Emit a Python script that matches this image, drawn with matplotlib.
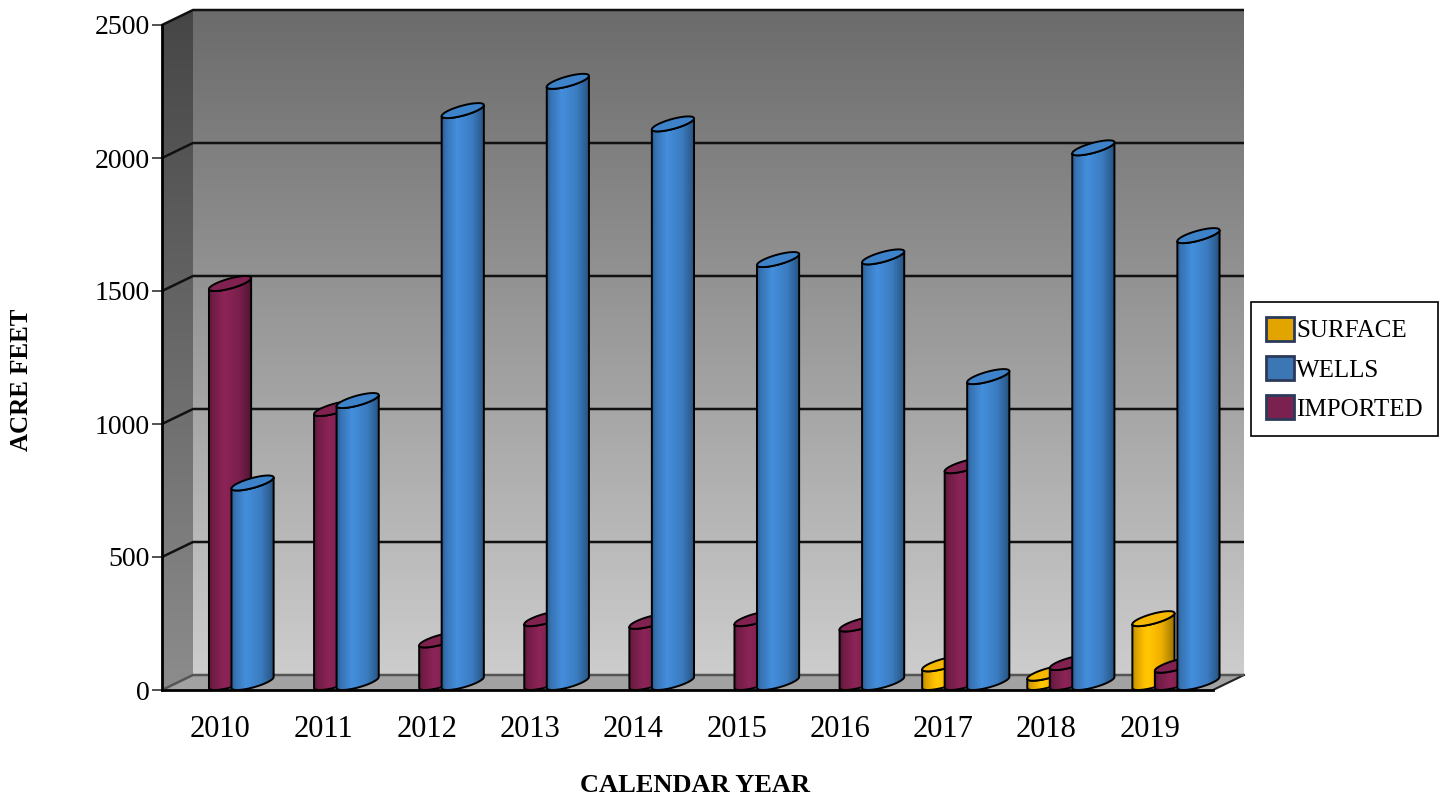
import numpy as np
import matplotlib
matplotlib.use("Agg")
import matplotlib.pyplot as plt
from matplotlib.patches import Polygon, Rectangle
from matplotlib.colors import to_rgb

plt.rcParams["font.family"] = ["Liberation Serif", "DejaVu Serif"]

# ---- data -------------------------------------------------------------
years = ["2010", "2011", "2012", "2013", "2014", "2015", "2016", "2017", "2018", "2019"]
surface = [0, 0, 0, 0, 0, 0, 0, 70, 35, 240]
wells = [750, 1060, 2150, 2260, 2100, 1590, 1600, 1150, 2010, 1680]
imported = [1500, 1030, 160, 240, 230, 240, 220, 815, 75, 65]
y_ticks = [0, 500, 1000, 1500, 2000, 2500]

legend_order = ["SURFACE", "WELLS", "IMPORTED"]
cluster_order = [("SURFACE", surface), ("IMPORTED", imported), ("WELLS", wells)]
body_colors = {"SURFACE": "#eaae00", "WELLS": "#3b7cc0", "IMPORTED": "#7a1f4c"}
legend_colors = {"SURFACE": "#e2a500", "WELLS": "#3a77b4", "IMPORTED": "#7b2150"}

# ---- figure / projection geometry --------------------------------------
W, H = 1447, 799
fig = plt.figure(figsize=(W / 100, H / 100), dpi=100)
x0p, x1p, y0p, y1p = 162, 1213, 690, 25      # front frame in pixels
n = len(years)
ymax = y_ticks[-1]
sx = (x1p - x0p) / n
sy = (y0p - y1p) / ymax

ax = fig.add_axes([0, 0, 1, 1])
ax.set_autoscale_on(False)
ax.set_xlim(-x0p / sx, (W - x0p) / sx)
ax.set_ylim(-(H - y0p) / sy, y0p / sy)
ax.patch.set_alpha(0)

DX = 31 / sx      # depth offset (data units) of the back plane
DY = 15 / sy


def vgrad(poly, extent, c_top, c_bot, zorder):
    t = np.linspace(0, 1, 256)[:, None]
    a, b = np.array(to_rgb(c_top)), np.array(to_rgb(c_bot))
    arr = (a * (1 - t) + b * t)[:, None, :]
    im = ax.imshow(arr, extent=extent, aspect="auto", origin="upper",
                   interpolation="bilinear", zorder=zorder)
    clip = Polygon(poly, closed=True, transform=ax.transData)
    im.set_clip_path(clip)


# ---- walls and floor ----------------------------------------------------
back = [(DX, DY), (n + DX, DY), (n + DX, ymax + DY), (DX, ymax + DY)]
vgrad(back, [DX, n + DX, DY, ymax + DY], "#6b6b6b", "#cdcdcd", 0.5)

side = [(0, 0), (0, ymax), (DX, ymax + DY), (DX, DY)]
vgrad(side, [0, DX, 0, ymax + DY], "#464646", "#8c8c8c", 0.6)

floor = Polygon([(0, 0), (n, 0), (n + DX, DY), (DX, DY)], closed=True,
                facecolor="#a2a2a2", edgecolor="none", zorder=0.7)
ax.add_patch(floor)
ax.plot([n, n + DX], [0, DY], color="#222222", lw=1.5, zorder=0.8)

for v in y_ticks:
    col = "#555555" if v == 0 else "#111111"
    ax.plot([0, DX, n + DX], [v, v + DY, v + DY], color=col, lw=1.8,
            zorder=1, solid_capstyle="butt")

# ---- cylinders ----------------------------------------------------------
RX = 14.3 / sx          # x radius of a cylinder
step = 22.5 / sx        # offset between series in a cluster
th1 = np.arctan2(0.5 * DX, RX)


def ring(xc, h, thetas):
    xs = xc + RX * np.cos(thetas) + DX * (0.5 + 0.5 * np.sin(thetas))
    ys = h + DY * (0.5 + 0.5 * np.sin(thetas))
    return np.column_stack([xs, ys])


prof_t = [0, 0.08, 0.35, 0.7, 0.92, 1.0]
prof_f = [0.72, 0.92, 1.15, 1.0, 0.75, 0.6]

z = 3.0
for i in range(n):
    for k, (name, vals) in enumerate(cluster_order):
        v = vals[i]
        if v <= 0:
            continue
        xc = i + 0.5 + (k - 1) * step
        base = np.array(to_rgb(body_colors[name]))
        bottom = ring(xc, 0, np.linspace(th1 + np.pi, th1 + 2 * np.pi, 80))
        top_front = ring(xc, v, np.linspace(th1 + 2 * np.pi, th1 + np.pi, 80))
        body = np.vstack([bottom, top_front])
        xl, xr = body[:, 0].min(), body[:, 0].max()
        t = np.linspace(0, 1, 200)
        fac = np.interp(t, prof_t, prof_f)
        arr = np.clip(base[None, :] * fac[:, None], 0, 1)[None, :, :]
        im = ax.imshow(arr, extent=[xl, xr, 0, v + DY], aspect="auto",
                       origin="upper", interpolation="bilinear", zorder=z)
        im.set_clip_path(Polygon(body, closed=True, transform=ax.transData))
        ax.add_patch(Polygon(body, closed=True, facecolor="none",
                             edgecolor="black", lw=1.4, zorder=z + 0.1))
        top = ring(xc, v, np.linspace(0, 2 * np.pi, 120))
        ax.add_patch(Polygon(top, closed=True,
                             facecolor=np.clip(base * 1.05, 0, 1),
                             edgecolor="black", lw=1.4, zorder=z + 0.2))
        z += 0.5

# ---- axes decoration ----------------------------------------------------
for s in ["top", "right"]:
    ax.spines[s].set_visible(False)
ax.spines["left"].set_position(("data", 0))
ax.spines["left"].set_bounds(0, ymax)
ax.spines["bottom"].set_position(("data", 0))
ax.spines["bottom"].set_bounds(0, n)
for s in ["left", "bottom"]:
    ax.spines[s].set_linewidth(2)
    ax.spines[s].set_zorder(2)

ax.set_yticks(y_ticks)
ax.set_yticklabels([str(v) for v in y_ticks])
ax.tick_params(axis="y", direction="out", length=7, width=1.2, pad=2,
               labelsize=20, color="#333333")
# category labels sit slightly inward of the cluster centres
ax.set_xticks(0.552 + 0.983 * np.arange(n))
ax.set_xticklabels(years)
ax.tick_params(axis="x", length=0, pad=18, labelsize=22)

fig.text(22 / W, 1 - 380 / H, "ACRE FEET", rotation=90, ha="center",
         va="center", fontsize=18, fontweight="bold")
fig.text(695 / W, 1 - 785 / H, "CALENDAR YEAR", ha="center", va="center",
         fontsize=19, fontweight="bold")

handles = [Rectangle((0, 0), 1, 1, facecolor=legend_colors[nm],
                     edgecolor="#2b3a5a", lw=2) for nm in legend_order]
leg = fig.legend(handles, legend_order, loc="upper left",
                 bbox_to_anchor=(1251 / W, 1 - 302 / H),
                 bbox_transform=fig.transFigure, frameon=True, fancybox=False,
                 edgecolor="black", framealpha=1, fontsize=18,
                 handlelength=1.1, handleheight=1.1, handletextpad=0.1,
                 labelspacing=0.55, borderpad=0.6, borderaxespad=0)
leg.get_frame().set_linewidth(1.2)

fig.savefig("out.png", dpi=100)
